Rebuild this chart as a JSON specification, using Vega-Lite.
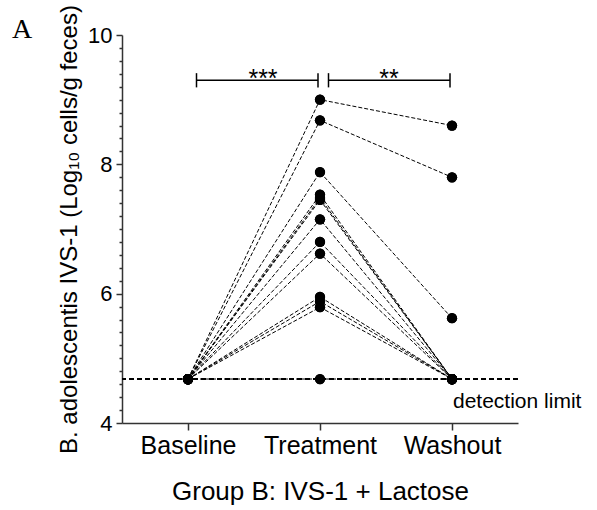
{
  "$schema": "https://vega.github.io/schema/vega-lite/v6.json",
  "width": 396,
  "height": 388,
  "autosize": {"type": "none"},
  "padding": {"left": 122, "top": 35, "right": 79, "bottom": 87},
  "background": "white",
  "config": {
    "font": "Liberation Sans",
    "view": {"stroke": null},
    "axis": {
      "grid": false,
      "domainColor": "#333333",
      "domainWidth": 1.5,
      "tickColor": "#333333",
      "tickWidth": 1.5,
      "labelColor": "black",
      "titleColor": "black",
      "titleFontWeight": "normal",
      "labelFont": "Liberation Sans",
      "titleFont": "Liberation Sans"
    },
    "axisX": {
      "labelAngle": 0,
      "labelFontSize": 25,
      "tickSize": 7,
      "labelPadding": 3,
      "titleFontSize": 26,
      "titlePadding": 20
    },
    "axisY": {
      "labelFontSize": 22,
      "labelPadding": 4,
      "titleFontSize": 24,
      "titlePadding": 6,
      "labelOverlap": false
    }
  },
  "title": {
    "text": "A",
    "anchor": "start",
    "frame": "group",
    "font": "Liberation Serif",
    "fontSize": 28,
    "fontWeight": "normal",
    "color": "black",
    "dx": -110,
    "dy": 43
  },
  "datasets": {
    "subjects": [
      {"subject": "S1", "phase": "Baseline", "value": 4.68},
      {"subject": "S1", "phase": "Treatment", "value": 9.0},
      {"subject": "S1", "phase": "Washout", "value": 8.6},
      {"subject": "S2", "phase": "Baseline", "value": 4.68},
      {"subject": "S2", "phase": "Treatment", "value": 8.68},
      {"subject": "S2", "phase": "Washout", "value": 7.8},
      {"subject": "S3", "phase": "Baseline", "value": 4.68},
      {"subject": "S3", "phase": "Treatment", "value": 7.88},
      {"subject": "S3", "phase": "Washout", "value": 5.62},
      {"subject": "S4", "phase": "Baseline", "value": 4.68},
      {"subject": "S4", "phase": "Treatment", "value": 7.53},
      {"subject": "S4", "phase": "Washout", "value": 4.68},
      {"subject": "S5", "phase": "Baseline", "value": 4.68},
      {"subject": "S5", "phase": "Treatment", "value": 7.48},
      {"subject": "S5", "phase": "Washout", "value": 4.68},
      {"subject": "S6", "phase": "Baseline", "value": 4.68},
      {"subject": "S6", "phase": "Treatment", "value": 7.45},
      {"subject": "S6", "phase": "Washout", "value": 4.68},
      {"subject": "S7", "phase": "Baseline", "value": 4.68},
      {"subject": "S7", "phase": "Treatment", "value": 7.15},
      {"subject": "S7", "phase": "Washout", "value": 4.68},
      {"subject": "S8", "phase": "Baseline", "value": 4.68},
      {"subject": "S8", "phase": "Treatment", "value": 6.8},
      {"subject": "S8", "phase": "Washout", "value": 4.68},
      {"subject": "S9", "phase": "Baseline", "value": 4.68},
      {"subject": "S9", "phase": "Treatment", "value": 6.62},
      {"subject": "S9", "phase": "Washout", "value": 4.68},
      {"subject": "S10", "phase": "Baseline", "value": 4.68},
      {"subject": "S10", "phase": "Treatment", "value": 5.95},
      {"subject": "S10", "phase": "Washout", "value": 4.68},
      {"subject": "S11", "phase": "Baseline", "value": 4.68},
      {"subject": "S11", "phase": "Treatment", "value": 5.88},
      {"subject": "S11", "phase": "Washout", "value": 4.68},
      {"subject": "S12", "phase": "Baseline", "value": 4.68},
      {"subject": "S12", "phase": "Treatment", "value": 5.79},
      {"subject": "S12", "phase": "Washout", "value": 4.68},
      {"subject": "S13", "phase": "Baseline", "value": 4.68},
      {"subject": "S13", "phase": "Treatment", "value": 4.68},
      {"subject": "S13", "phase": "Washout", "value": 4.68}
    ]
  },
  "layer": [
    {
      "data": {"name": "subjects"},
      "mark": {"type": "circle", "color": "black", "opacity": 1, "size": 105},
      "encoding": {
        "x": {
          "field": "phase",
          "type": "nominal",
          "sort": ["Baseline", "Treatment", "Washout"],
          "scale": {"type": "point", "padding": 0.5},
          "title": "Group B: IVS-1 + Lactose"
        },
        "y": {
          "field": "value",
          "type": "quantitative",
          "scale": {"domain": [4, 10], "nice": false, "zero": false},
          "title": "B. adolescentis IVS-1 (Log₁₀ cells/g feces)",
          "axis": {
            "values": [4, 4.2, 4.4, 4.6, 4.8, 5, 5.2, 5.4, 5.6, 5.8, 6, 6.2, 6.4, 6.6, 6.8, 7, 7.2, 7.4, 7.6, 7.8, 8, 8.2, 8.4, 8.6, 8.8, 9, 9.2, 9.4, 9.6, 9.8, 10],
            "tickCount": 100,
            "labelExpr": "abs(datum.value - round(datum.value / 2) * 2) < 0.01 ? format(datum.value, 'd') : ''",
            "labelOverlap": false,
            "labelBound": false,
            "labelFlush": false,
            "tickSize": {"condition": {"test": "abs(datum.value - round(datum.value / 2) * 2) < 0.01", "value": 6}, "value": 3}
          }
        }
      }
    },
    {
      "data": {"values": [{"value": 4.68}]},
      "mark": {"type": "rule", "color": "black", "strokeWidth": 2, "strokeDash": [5, 3]},
      "encoding": {
        "y": {"field": "value", "type": "quantitative"}
      }
    },
    {
      "data": {"name": "subjects"},
      "mark": {"type": "line", "color": "black", "strokeWidth": 1, "strokeDash": [4, 2]},
      "encoding": {
        "x": {"field": "phase", "type": "nominal", "sort": ["Baseline", "Treatment", "Washout"]},
        "y": {"field": "value", "type": "quantitative"},
        "detail": {"field": "subject"}
      }
    },
    {
      "data": {"name": "subjects"},
      "mark": {"type": "circle", "color": "black", "opacity": 1, "size": 105},
      "encoding": {
        "x": {"field": "phase", "type": "nominal", "sort": ["Baseline", "Treatment", "Washout"]},
        "y": {"field": "value", "type": "quantitative"}
      }
    },
    {
      "data": {"values": [{"phase": "Washout", "value": 4.68, "label": "detection limit"}]},
      "mark": {"type": "text", "align": "left", "baseline": "top", "dx": 1, "dy": 12, "fontSize": 21, "color": "black"},
      "encoding": {
        "x": {"field": "phase", "type": "nominal"},
        "y": {"field": "value", "type": "quantitative"},
        "text": {"field": "label"}
      }
    },
    {
      "data": {"values": [{"phase": "Baseline", "phase2": "Treatment", "value": 9.3}, {"phase": "Treatment", "phase2": "Washout", "value": 9.3}]},
      "mark": {"type": "rule", "color": "black", "strokeWidth": 1.5, "xOffset": 8.5, "x2Offset": -2},
      "encoding": {
        "x": {"field": "phase", "type": "nominal"},
        "x2": {"field": "phase2"},
        "y": {"field": "value", "type": "quantitative"}
      }
    },
    {
      "data": {"values": [{"phase": "Baseline", "value": 9.41, "value2": 9.19}, {"phase": "Treatment", "value": 9.41, "value2": 9.19}]},
      "mark": {"type": "rule", "color": "black", "strokeWidth": 1.5, "xOffset": 8.5},
      "encoding": {
        "x": {"field": "phase", "type": "nominal"},
        "y": {"field": "value", "type": "quantitative"},
        "y2": {"field": "value2"}
      }
    },
    {
      "data": {"values": [{"phase": "Treatment", "value": 9.41, "value2": 9.19}, {"phase": "Washout", "value": 9.41, "value2": 9.19}]},
      "mark": {"type": "rule", "color": "black", "strokeWidth": 1.5, "xOffset": -2},
      "encoding": {
        "x": {"field": "phase", "type": "nominal"},
        "y": {"field": "value", "type": "quantitative"},
        "y2": {"field": "value2"}
      }
    },
    {
      "data": {"values": [{"phase": "Baseline", "value": 9.3, "label": "***"}]},
      "mark": {"type": "text", "align": "center", "baseline": "alphabetic", "dx": 75, "dy": 7, "fontSize": 25, "color": "black"},
      "encoding": {
        "x": {"field": "phase", "type": "nominal"},
        "y": {"field": "value", "type": "quantitative"},
        "text": {"field": "label"}
      }
    },
    {
      "data": {"values": [{"phase": "Treatment", "value": 9.3, "label": "**"}]},
      "mark": {"type": "text", "align": "center", "baseline": "alphabetic", "dx": 69, "dy": 7, "fontSize": 25, "color": "black"},
      "encoding": {
        "x": {"field": "phase", "type": "nominal"},
        "y": {"field": "value", "type": "quantitative"},
        "text": {"field": "label"}
      }
    }
  ]
}
